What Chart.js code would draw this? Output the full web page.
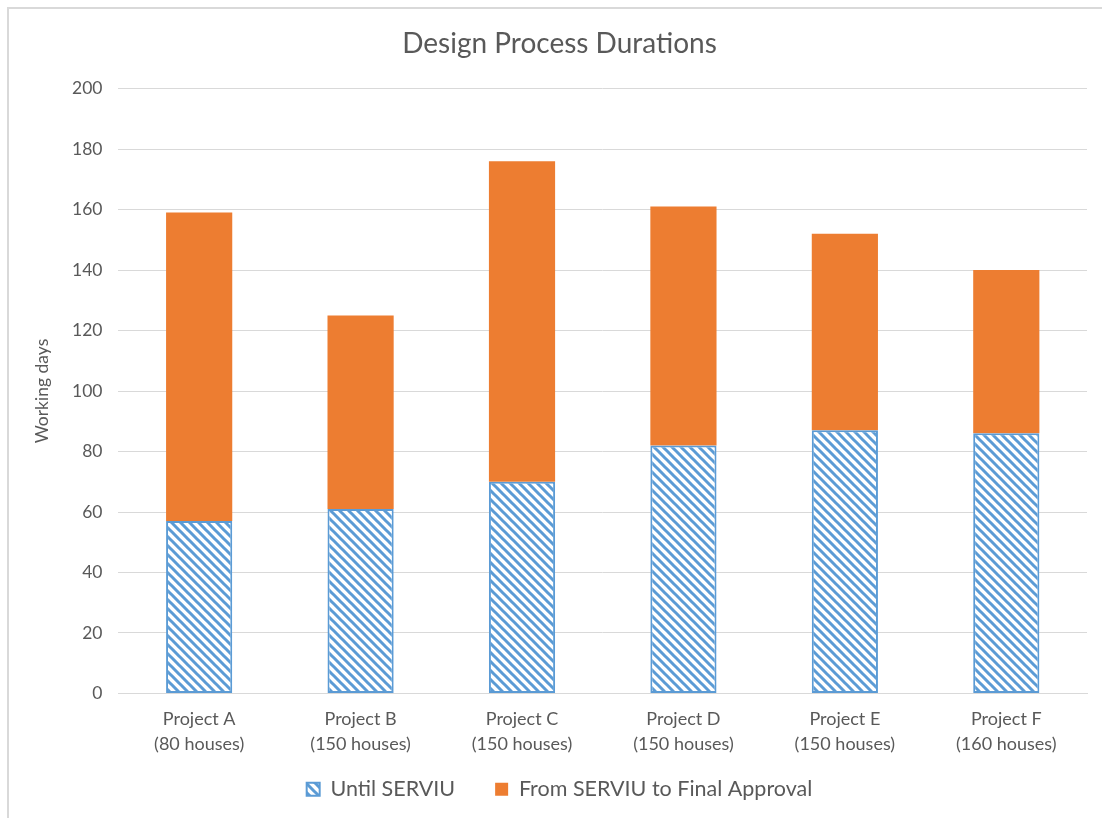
<!DOCTYPE html>
<html>
<head>
<meta charset="utf-8">
<script src="https://cdn.jsdelivr.net/npm/chart.js@4"></script>
<style>
  body { margin: 0; background: #fff; overflow: hidden; }
  #frame { position: absolute; left: 7px; top: 7px; width: 1095px; height: 811px;
           border-top: 2px solid #d9d9d9; border-left: 2px solid #d9d9d9; box-sizing: border-box; }
  #wrap { position: absolute; left: 0; top: 0; width: 1102px; height: 843px; }
</style>
</head>
<body>
<div id="frame"></div>
<div id="wrap"><canvas id="chart"></canvas></div>
<script>
const projects = [
    ['Project A', '(80 houses)'],
    ['Project B', '(150 houses)'],
    ['Project C', '(150 houses)'],
    ['Project D', '(150 houses)'],
    ['Project E', '(150 houses)'],
    ['Project F', '(160 houses)']
];
const untilServiu = [57, 61, 70, 82, 87, 86];
const toFinalApproval = [102, 64, 106, 79, 65, 54];

const textColor = '#595959';
const fontFamily = 'Lato, "Open Sans", sans-serif';

// diagonal hatch like the excel fill
function makeHatch() {
    const size = 9;
    const c = document.createElement('canvas');
    c.width = size;
    c.height = size;
    const g = c.getContext('2d');
    g.fillStyle = '#ffffff';
    g.fillRect(0, 0, size, size);
    g.strokeStyle = '#5b9bd5';
    g.lineWidth = 3;
    g.beginPath();
    g.moveTo(-2, -2); g.lineTo(size + 2, size + 2);
    g.moveTo(-2 - size, -2); g.lineTo(2, size + 2);
    g.moveTo(size - 2, -2); g.lineTo(2 * size + 2, size + 2);
    g.stroke();
    return g.createPattern(c, 'repeat');
}

// legend sits closer to the axis labels than its padding would allow
const liftLegend = {
    id: 'liftLegend',
    afterLayout(chart) {
        chart.legend.top -= 31;
        chart.legend.bottom -= 31;
    }
};

const ctx = document.getElementById('chart').getContext('2d');
new Chart(ctx, {
    type: 'bar',
    data: {
        labels: projects,
        datasets: [{
            label: 'Until SERVIU',
            data: untilServiu,
            backgroundColor: makeHatch(),
            borderColor: '#5b9bd5',
            borderWidth: 2,
            borderSkipped: false
        }, {
            label: 'From SERVIU to Final Approval',
            data: toFinalApproval,
            backgroundColor: '#ed7d31',
            borderWidth: 0
        }]
    },
    options: {
        responsive: true,
        maintainAspectRatio: false,
        animation: false,
        categoryPercentage: 1,
        barPercentage: 0.41,
        layout: { padding: { left: 32, right: 15, top: 20, bottom: 2 } },
        scales: {
            x: {
                stacked: true,
                grid: { display: false, drawTicks: false },
                border: { color: '#d9d9d9', width: 1 },
                ticks: { color: textColor, font: { family: fontFamily, size: 18, lineHeight: 1.39 }, padding: 13 }
            },
            y: {
                stacked: true,
                min: 0,
                max: 200,
                ticks: { stepSize: 20, color: textColor, font: { family: fontFamily, size: 17.5 }, padding: 16 },
                grid: { color: '#d9d9d9', drawTicks: false },
                border: { display: false },
                title: {
                    display: true,
                    text: 'Working days',
                    color: textColor,
                    font: { family: fontFamily, size: 17.5 },
                    padding: { top: 0, bottom: 3 }
                }
            }
        },
        plugins: {
            title: {
                display: true,
                text: 'Design Process Durations',
                color: textColor,
                font: { family: fontFamily, size: 28, weight: 'normal' },
                padding: { top: 7, bottom: 28 }
            },
            legend: {
                position: 'bottom',
                labels: {
                    color: textColor,
                    font: { family: fontFamily, size: 21.5 },
                    boxWidth: 13,
                    boxHeight: 13,
                    padding: 40
                }
            },
            tooltip: { enabled: false }
        }
    },
    plugins: [liftLegend]
});
</script>
</body>
</html>
